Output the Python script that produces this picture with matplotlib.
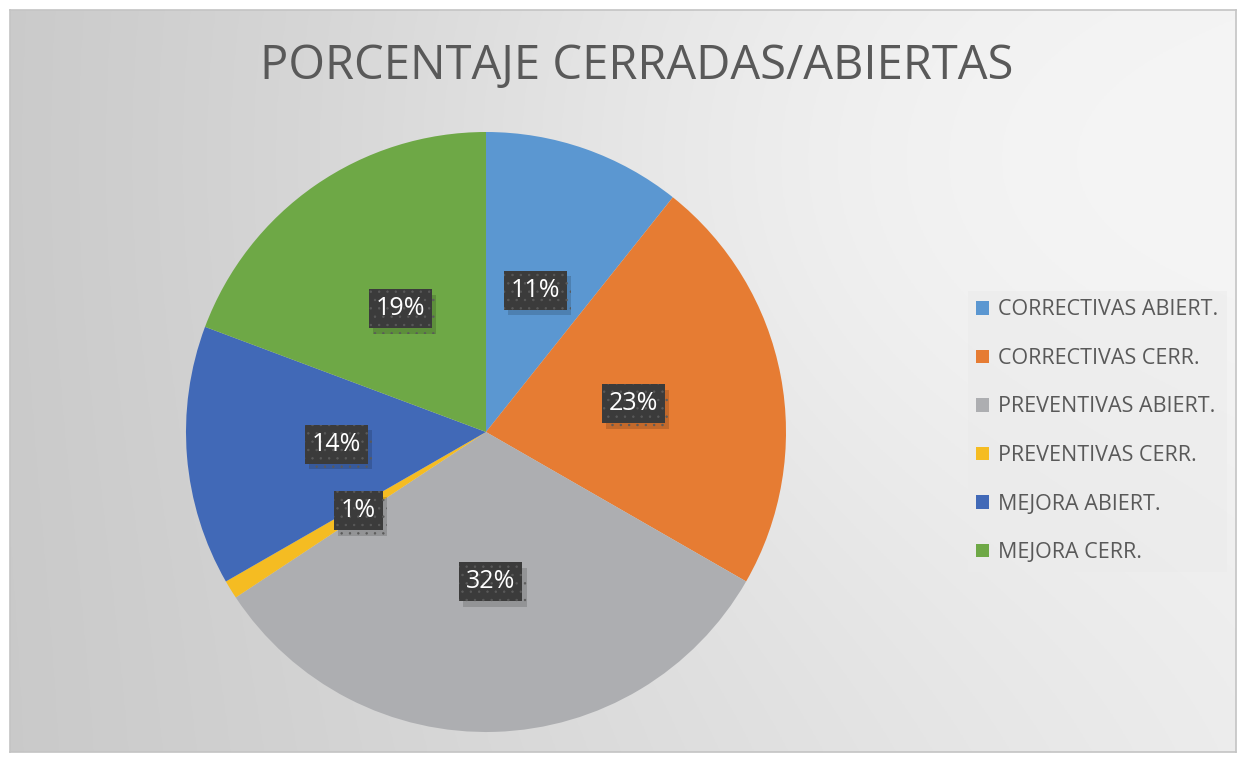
import numpy as np
import matplotlib
matplotlib.use("Agg")
import matplotlib.pyplot as plt
import matplotlib.patheffects as pe
from matplotlib.patches import Patch

# ---- data ----
categories = ["CORRECTIVAS ABIERT.", "CORRECTIVAS CERR.", "PREVENTIVAS ABIERT.",
              "PREVENTIVAS CERR.", "MEJORA ABIERT.", "MEJORA CERR."]
values = [10.7, 22.6, 32.4, 1.0, 14.0, 19.3]
pct_labels = ["11%", "23%", "32%", "1%", "14%", "19%"]
colors = ["#5B97D1", "#E67C33", "#ADAEB1", "#F5BC22", "#4169B7", "#6EA846"]
title = "PORCENTAJE CERRADAS/ABIERTAS"

plt.rcParams['font.family'] = ['Open Sans', 'DejaVu Sans']
plt.rcParams['hatch.linewidth'] = 0.5

W, H = 1245, 758
fig = plt.figure(figsize=(W / 100, H / 100), dpi=100)
fig.patch.set_facecolor('white')

# background gradient panel
bx0, by0, bx1, by1 = 10, 10, 1236, 752
bg = fig.add_axes([bx0 / W, 1 - by1 / H, (bx1 - bx0) / W, (by1 - by0) / H])
xx, yy = np.meshgrid(np.linspace(0, 1, 400), np.linspace(0, 1, 250))
base = 0.79 + 0.13 * xx
rad = np.exp(-(((xx - 0.72) / 0.45) ** 2 + ((yy - 0.2) / 0.6) ** 2))
img = np.clip(base + 0.06 * rad, 0, 1)
bg.imshow(np.dstack([img, img, img]), aspect='auto', extent=[0, 1, 1, 0])
bg.set_xticks([]); bg.set_yticks([])
for s in bg.spines.values():
    s.set_color('#c4c4c4'); s.set_linewidth(1.2)
bg.set_zorder(0)

# pie axes
cx, cy, r = 486, 432, 300
ax = fig.add_axes([(cx - r) / W, 1 - (cy + r) / H, 2 * r / W, 2 * r / H])
ax.set_zorder(1)
wedges, _ = ax.pie(values, colors=colors, startangle=90, counterclock=False,
                   radius=1, wedgeprops=dict(linewidth=0))
ax.set_xlim(-1, 1); ax.set_ylim(-1, 1)
ax.set_aspect('equal')
ax.axis('off')

for w, lab in zip(wedges, pct_labels):
    ang = np.deg2rad((w.theta1 + w.theta2) / 2)
    x, y = 0.5 * np.cos(ang), 0.5 * np.sin(ang)
    t = ax.text(x, y, lab, ha='center', va='center', fontsize=18, color='white', zorder=4,
                bbox=dict(boxstyle='square,pad=0.28', facecolor='#3b3b3b',
                          edgecolor='#5a5a5a', linewidth=0, hatch='..'))
    t.get_bbox_patch().set_path_effects(
        [pe.SimplePatchShadow(offset=(3, -4), shadow_rgbFace='black', alpha=0.15), pe.Normal()])

# title
fig.text(637 / W, 1 - 66 / H, title, ha='center', va='center',
         fontsize=33.9, color='#595959', zorder=5)

# legend
handles = [Patch(facecolor=c, edgecolor='none') for c in colors]
leg = fig.legend(handles, categories, loc='upper left',
                 bbox_to_anchor=(957 / W, 1 - 280 / H),
                 frameon=True, facecolor='#ebebeb', edgecolor='none', framealpha=0.5,
                 fontsize=15.5, labelcolor='#595959', handlelength=0.6, handleheight=0.6,
                 handletextpad=0.4, labelspacing=1.28, borderpad=0.4, fancybox=False)
plt.savefig('out.png', dpi=100)
